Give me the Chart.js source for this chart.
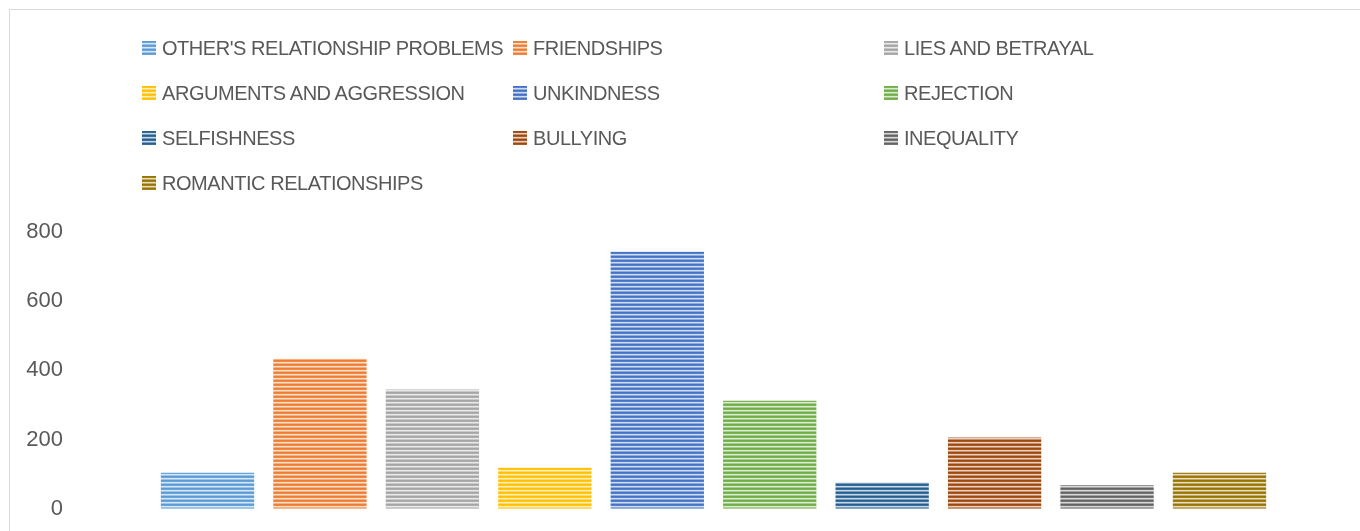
<!DOCTYPE html>
<html>
<head>
<meta charset="utf-8">
<script src="https://cdn.jsdelivr.net/npm/chart.js@4/dist/chart.umd.min.js"></script>
<style>
    html, body {
        margin: 0;
        padding: 0;
        background: #fff;
        overflow: hidden;
    }
    .wrap {
        position: relative;
        width: 1360px;
        height: 531px;
    }
    .frame {
        position: absolute;
        left: 9px;
        top: 9px;
        width: 1400px;
        height: 600px;
        border: 1px solid #d9d9d9;
        pointer-events: none;
    }
    #chart {
        position: absolute;
        left: 0;
        top: 0;
    }
    #legend {
        position: absolute;
        left: 142px;
        top: 25px;
        font-family: "Liberation Sans", Arial, sans-serif;
        font-size: 20px;
        letter-spacing: -0.45px;
        color: #595959;
    }
    .legend-item {
        position: absolute;
        height: 45px;
        display: flex;
        align-items: center;
        white-space: nowrap;
        line-height: 20px;
    }
    .legend-box {
        width: 14px;
        height: 14px;
        margin-right: 6px;
        flex: none;
    }
</style>
</head>
<body>
<div class="wrap">
    <canvas id="chart" width="1360" height="531"></canvas>
    <div id="legend"></div>
    <div class="frame"></div>
</div>
<script>
const categories = [
    "OTHER'S RELATIONSHIP PROBLEMS",
    'FRIENDSHIPS',
    'LIES AND BETRAYAL',
    'ARGUMENTS AND AGGRESSION',
    'UNKINDNESS',
    'REJECTION',
    'SELFISHNESS',
    'BULLYING',
    'INEQUALITY',
    'ROMANTIC RELATIONSHIPS'
];
const counts = [104, 434, 345, 119, 743, 312, 76, 206, 68, 104];
const colors = [
    '#5b9bd5', '#ed7d31', '#a5a5a5', '#ffc000', '#4472c4',
    '#70ad47', '#255e91', '#9e480e', '#636363', '#997300'
];
const yTicks = [0, 200, 400, 600, 800];

// mix a hex colour with white, amt 0..1
function tint(hex, amt) {
    const n = parseInt(hex.slice(1), 16);
    const r = n >> 16, g = (n >> 8) & 255, b = n & 255;
    const f = c => Math.round(c + (255 - c) * amt);
    return 'rgb(' + f(r) + ',' + f(g) + ',' + f(b) + ')';
}

const stripeRows = [0, 0.1, 0.75, 0.4];

function stripePattern(hex) {
    const c = document.createElement('canvas');
    c.width = 4;
    c.height = stripeRows.length;
    const cx = c.getContext('2d');
    stripeRows.forEach((amt, i) => {
        cx.fillStyle = tint(hex, amt);
        cx.fillRect(0, i, 4, 1);
    });
    return cx.createPattern(c, 'repeat');
}

function stripeCss(hex) {
    const stops = stripeRows.map((amt, i) =>
        tint(hex, amt) + ' ' + i + 'px ' + (i + 1) + 'px').join(', ');
    return 'repeating-linear-gradient(to bottom, ' + stops + ')';
}

const htmlLegend = {
    id: 'htmlLegend',
    afterUpdate(chart) {
        const box = document.getElementById('legend');
        box.innerHTML = '';
        chart.data.datasets.forEach((ds, i) => {
            const item = document.createElement('div');
            item.className = 'legend-item';
            item.style.left = (i % 3) * 371 + 'px';
            item.style.top = Math.floor(i / 3) * 45 + 'px';
            const sw = document.createElement('span');
            sw.className = 'legend-box';
            sw.style.background = stripeCss(colors[i]);
            const txt = document.createElement('span');
            txt.textContent = ds.label;
            item.appendChild(sw);
            item.appendChild(txt);
            box.appendChild(item);
        });
    }
};

const datasets = categories.map((name, i) => ({
    label: name,
    data: [counts[i]],
    backgroundColor: stripePattern(colors[i]),
    borderWidth: 0,
    categoryPercentage: 0.8764,
    barPercentage: 0.83
}));

new Chart(document.getElementById('chart'), {
    type: 'bar',
    data: {
        labels: [''],
        datasets: datasets
    },
    options: {
        responsive: false,
        animation: false,
        layout: {
            padding: { top: 232, bottom: 21, left: 0, right: 5 }
        },
        plugins: {
            legend: { display: false },
            tooltip: { enabled: false }
        },
        scales: {
            x: {
                display: false
            },
            y: {
                min: yTicks[0],
                max: yTicks[yTicks.length - 1],
                afterFit(scale) {
                    scale.width = 72;
                },
                afterBuildTicks(scale) {
                    scale.ticks = yTicks.map(v => ({ value: v }));
                },
                grid: { display: false, drawTicks: false },
                border: { display: false },
                ticks: {
                    padding: 9,
                    color: '#595959',
                    font: { family: '"Liberation Sans", Arial, sans-serif', size: 22 }
                }
            }
        }
    },
    plugins: [htmlLegend]
});
</script>
</body>
</html>
